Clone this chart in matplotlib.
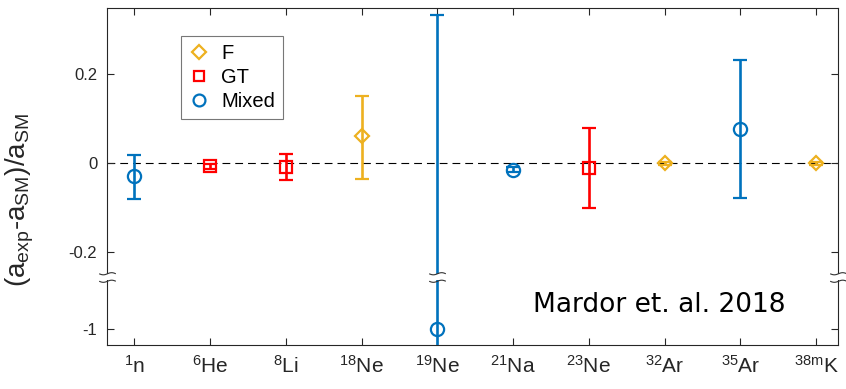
import numpy as np
import matplotlib
matplotlib.use("Agg")
import matplotlib.pyplot as plt
from matplotlib.path import Path
from matplotlib.lines import Line2D

plt.rcParams['font.family'] = ['Liberation Sans', 'DejaVu Sans']
plt.rcParams['mathtext.default'] = 'regular'

# nuclei along the x axis
nuclei = [r'$^{1}$n', r'$^{6}$He', r'$^{8}$Li', r'$^{18}$Ne', r'$^{19}$Ne',
          r'$^{21}$Na', r'$^{23}$Ne', r'$^{32}$Ar', r'$^{35}$Ar', r'$^{38m}$K']
kind = ['Mixed', 'GT', 'GT', 'F', 'Mixed', 'Mixed', 'GT', 'F', 'Mixed', 'F']
value = [-0.029, -0.008, -0.010, 0.060, -1.0, -0.015, -0.011, -0.001, 0.076, -0.001]
err_lo = [0.052, 0.005, 0.028, 0.096, 1.0, 0.005, 0.090, 0.004, 0.155, 0.004]
err_hi = [0.047, 0.005, 0.030, 0.091, 1.333, 0.005, 0.089, 0.004, 0.155, 0.004]

styles = {'F': ('D', '#EDB120', 7.5),
          'GT': ('s', '#FF0000', 8.5),
          'Mixed': ('o', '#0072BD', 9.5)}

# broken y axis: squeeze the gap between -0.885 and -0.256
brk_lo, brk_hi = -0.885, -0.256
xs = [-100, brk_lo, brk_hi, 100]
ys = [-100 + (brk_hi - brk_lo) - 0.002, brk_hi - 0.002, brk_hi, 100]


def fwd(v):
    return np.interp(v, xs, ys)


def inv(y):
    return np.interp(y, ys, xs)


fig = plt.figure(figsize=(8.46, 3.89), dpi=100)
ax = fig.add_axes([0.1265, 0.1131, 0.8641, 0.8676])
ax.set_yscale('function', functions=(fwd, inv))

x = np.arange(1, len(nuclei) + 1)
for i in range(len(nuclei)):
    m, c, ms = styles[kind[i]]
    ax.errorbar(x[i], value[i], yerr=[[err_lo[i]], [err_hi[i]]], fmt=m, color=c,
                mfc='none', mec=c, ms=ms, mew=1.6, elinewidth=1.9, capsize=4.7,
                capthick=1.9, zorder=3)

ax.axhline(0, color='k', lw=0.8, dashes=(7, 4.5), zorder=1)

ax.set_xlim(0.64, 10.29)
ax.set_ylim(-1.036, 0.349)
ax.set_xticks(x)
ax.set_xticklabels(nuclei, fontsize=15)
ax.set_yticks([-1, -0.2, 0, 0.2])
ax.set_yticklabels(['-1', '-0.2', '0', '0.2'], fontsize=12)
ax.tick_params(direction='in', length=5, width=0.8, color='#262626',
               labelcolor='#262626', top=True, right=True)
ax.tick_params(axis='x', pad=7)
ax.tick_params(axis='y', pad=7)
for s in ax.spines.values():
    s.set_color('#262626')
    s.set_linewidth(0.8)

ax.set_ylabel(r'(a$_{exp}$-a$_{SM}$)/a$_{SM}$', fontsize=20, color='#262626')
ax.yaxis.set_label_coords(-0.097, 0.43)

# break marks
t = np.linspace(-1, 1, 15)
w = 0.13 * np.sin(np.pi * t)
verts = list(zip(t, 0.45 + w)) + list(zip(t, -0.45 + w))
codes = ([Path.MOVETO] + [Path.LINETO] * 14) * 2
tilde = Path(verts, codes)
gap = Path([(-1, -0.4), (1, -0.4), (1, 0.4), (-1, 0.4), (-1, -0.4)],
           [Path.MOVETO, Path.LINETO, Path.LINETO, Path.LINETO, Path.CLOSEPOLY])
yt = ax.get_yaxis_transform()
for bx, tr in [(0, yt), (1, yt), (5, ax.transData)]:
    ax.plot([bx], [-0.5], marker=gap, ms=12, mfc='white', mec='none', mew=0,
            transform=tr, clip_on=False, zorder=5)
    ax.plot([bx], [-0.5], marker=tilde, ms=12, mfc='none', mec='#333333', mew=0.8,
            transform=tr, clip_on=False, zorder=6)

handles = [Line2D([], [], ls='none', marker=styles[k][0], color=styles[k][1],
                  mfc='none', ms=styles[k][2] * 0.9, mew=1.6) for k in ['F', 'GT', 'Mixed']]
leg = ax.legend(handles, ['F', 'GT', 'Mixed'], loc='upper left',
                bbox_to_anchor=(0.101, 0.916), borderaxespad=0, fontsize=14.5,
                fancybox=False, edgecolor='#555555', handlelength=1.0,
                handletextpad=0.6, borderpad=0.4, labelspacing=0.25)
leg.get_frame().set_linewidth(0.8)

ax.text(0.583, 0.098, 'Mardor et. al. 2018', transform=ax.transAxes,
        fontsize=19, family='DejaVu Sans', va='baseline', ha='left')

fig.savefig('out.png', dpi=100)
